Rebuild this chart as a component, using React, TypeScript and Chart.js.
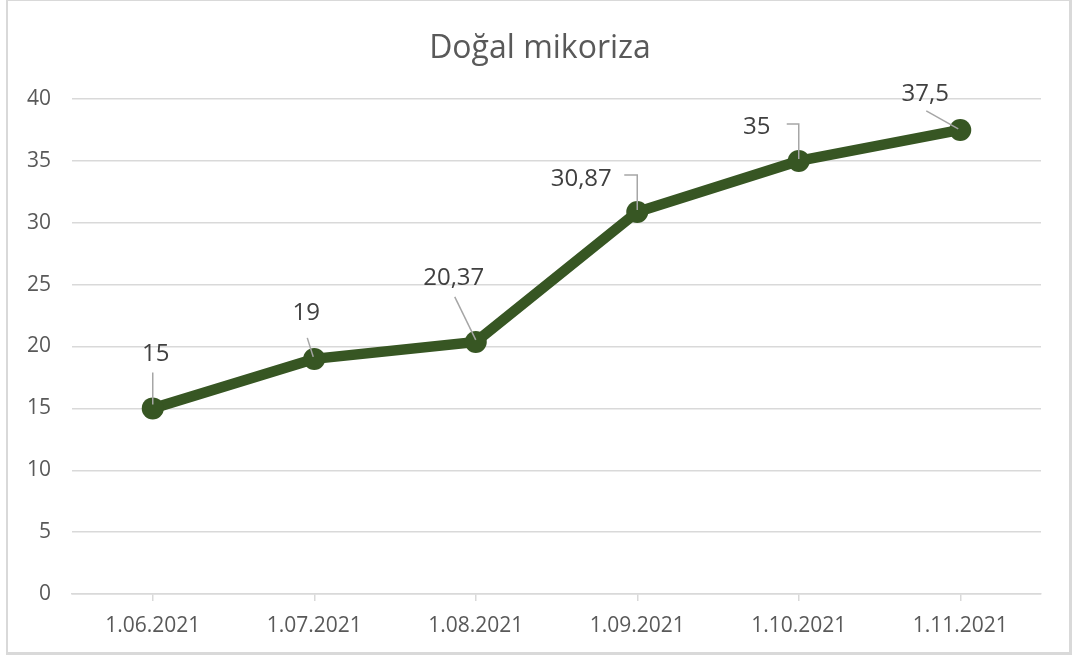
import React, { useEffect, useRef } from "react";
import { Chart, registerables } from "chart.js";

Chart.register(...registerables);

const TITLE = "Doğal mikoriza";
const categories = ["1.06.2021", "1.07.2021", "1.08.2021", "1.09.2021", "1.10.2021", "1.11.2021"];
const values = [15, 19, 20.37, 30.87, 35, 37.5];
const yTicks = { min: 0, max: 40, step: 5 };

// label placement relative to each point (pixels): text centre/baseline and leader polyline
const labelLayout = [
  { dx: 3, dy: -47, leader: [[0, -36], [0, -4]] },
  { dx: -8, dy: -39, leader: [[-7, -21], [-1, -2]] },
  { dx: -22, dy: -57, leader: [[-21, -45], [0, -2]] },
  { dx: -56, dy: -26, leader: [[-13, -37], [0, -37], [0, -2]] },
  { dx: -42, dy: -27, leader: [[-12, -37], [0, -37], [0, -2]] },
  { dx: -35, dy: -29, leader: [[-34, -19], [-2, -1]] },
];

const FONT = "'Open Sans', 'Noto Sans', sans-serif";

const labelPlugin = {
  id: "customLabels",
  afterDatasetsDraw(chart: any) {
    const ctx = chart.ctx;
    const meta = chart.getDatasetMeta(0);
    ctx.save();
    // title
    ctx.fillStyle = "#595959";
    ctx.font = `32px ${FONT}`;
    ctx.textAlign = "center";
    ctx.textBaseline = "alphabetic";
    ctx.fillText(TITLE, 540, 58);
    meta.data.forEach((pt: any, i: number) => {
      const lay = labelLayout[i];
      if (!lay) return;
      ctx.strokeStyle = "#a6a6a6";
      ctx.lineWidth = 1.5;
      ctx.beginPath();
      lay.leader.forEach(([lx, ly], j) => {
        if (j === 0) ctx.moveTo(pt.x + lx, pt.y + ly);
        else ctx.lineTo(pt.x + lx, pt.y + ly);
      });
      ctx.stroke();
      ctx.fillStyle = "#404040";
      ctx.font = `24px ${FONT}`;
      ctx.textAlign = "center";
      ctx.textBaseline = "alphabetic";
      ctx.fillText(String(values[i]).replace(".", ","), pt.x + lay.dx, pt.y + lay.dy);
    });
    ctx.restore();
  },
};

export default function App() {
  const ref = useRef<HTMLCanvasElement | null>(null);
  useEffect(() => {
    if (!ref.current) return;
    const chart = new Chart(ref.current, {
      type: "line",
      data: {
        labels: categories,
        datasets: [
          {
            data: values,
            borderColor: "#375623",
            backgroundColor: "#375623",
            borderWidth: 10.5,
            pointRadius: 11,
            pointBorderWidth: 0,
            pointBackgroundColor: "#375623",
            tension: 0,
          },
        ],
      },
      options: {
        responsive: false,
        devicePixelRatio: 1,
        animation: false,
        layout: { padding: { top: 99, right: 35, left: 0, bottom: 0 } },
        plugins: { legend: { display: false }, title: { display: false }, tooltip: { enabled: false } },
        scales: {
          x: {
            offset: true,
            grid: { drawOnChartArea: false, drawTicks: true, tickLength: 7, color: "#d9d9d9", lineWidth: 1.5 },
            border: { display: true, color: "#d9d9d9", width: 1.5 },
            ticks: { color: "#595959", font: { family: FONT, size: 21 }, padding: 12, maxRotation: 0 },
            afterFit: (s: any) => { s.height = 63; },
          },
          y: {
            min: yTicks.min,
            max: yTicks.max,
            ticks: { stepSize: yTicks.step, color: "#595959", font: { family: FONT, size: 21 }, padding: 21 },
            grid: { color: "#d9d9d9", lineWidth: 1.5, drawTicks: false },
            border: { display: false },
            afterFit: (s: any) => { s.width = 72; },
          },
        },
      },
      plugins: [labelPlugin],
    });
    return () => chart.destroy();
  }, []);
  return (
    <div style={{ position: "fixed", left: 0, top: 0, width: 1076, height: 657, background: "#fff" }}>
      <div
        style={{
          position: "absolute",
          left: 6,
          top: -1,
          width: 1066,
          height: 656,
          border: "2px solid #d9d9d9",
          borderRightWidth: 3,
          borderBottomWidth: 3,
          boxSizing: "border-box",
        }}
      />
      <canvas ref={ref} width={1076} height={657} style={{ position: "absolute", left: 0, top: 0 }} />
    </div>
  );
}
